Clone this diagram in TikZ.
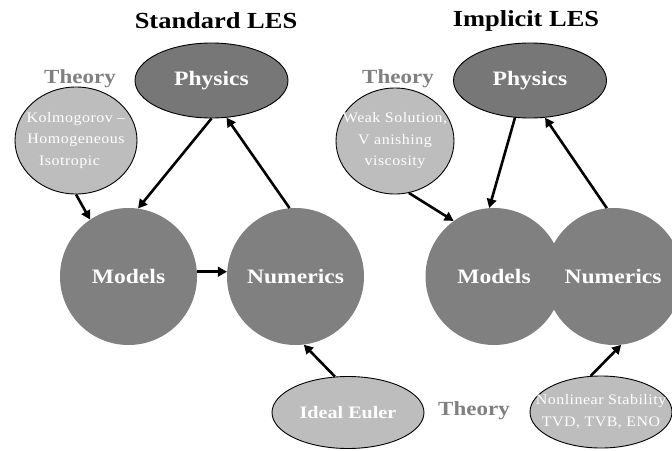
\documentclass[tikz,border=0pt]{standalone}
\usepackage{fontspec}
\setmainfont{Liberation Serif}[FakeStretch=1.15]
\newfontfamily\thinfont{Liberation Serif}[FakeStretch=1.1,LetterSpace=3.5]
\usetikzlibrary{shapes.geometric,arrows.meta}
\definecolor{darkfill}{HTML}{777777}
\definecolor{midfill}{HTML}{808080}
\definecolor{lightfill}{HTML}{BDBDBD}
\definecolor{theorygray}{HTML}{808080}
\tikzset{
  bigcircle/.style={circle,fill=midfill,minimum size=137pt,inner sep=0pt,text=white,font=\bfseries\fontsize{20.5}{24}\selectfont},
  physics/.style={ellipse,draw=black,line width=0.9pt,fill=darkfill,minimum width=153pt,minimum height=75pt,inner sep=0pt,text=white,font=\bfseries\fontsize{20.5}{24}\selectfont},
  theoryblob/.style={ellipse,draw=black,line width=0.9pt,fill=lightfill,inner sep=0pt},
  blobtext/.style={text=white,align=center,font=\thinfont\fontsize{14.5}{21.5}\selectfont},
  theorylbl/.style={text=theorygray,font=\bfseries\fontsize{20}{24}\selectfont},
  titletxt/.style={text=black,font=\bfseries\fontsize{23}{26}\selectfont},
  conn/.style={line width=2.6pt,-{Triangle[length=9pt,width=9.5pt]}}
}
\begin{document}
\begin{tikzpicture}[x=1pt,y=-1pt]
\clip (0,0) rectangle (672,450);
% titles
\node[titletxt] (t1) at (216,21) {Standard LES};
\node[titletxt] (t2) at (526,21) {Implicit LES};
% left diagram
\node[physics] (pL) at (211.5,80.5) {Physics};
\node[theorylbl] (thL) at (80,79) {Theory};
\node[theoryblob,minimum width=122pt,minimum height=107pt,
  label={[blobtext]center:Kolmogorov –\\Homogeneous\\Isotropic\hspace*{0.9em}}] (kL) at (76,140.5) {};
\node[bigcircle] (mL) at (128.5,276.5) {Models};
\node[bigcircle] (nL) at (295.5,276.5) {Numerics};
\node[theoryblob,minimum width=152pt,minimum height=72pt,text=white,
  font=\bfseries\fontsize{17.5}{20}\selectfont] (eL) at (348,412.5) {Ideal Euler};
\node[theorylbl] (thB) at (474,411) {Theory};
% right diagram
\node[physics] (pR) at (530,80.5) {Physics};
\node[theorylbl] (thR) at (398,79) {Theory};
\node[theoryblob,minimum width=118pt,minimum height=106pt,
  label={[blobtext]center:Weak Solution,\\V anishing\\viscosity}] (wR) at (395,141) {};
\node[bigcircle] (nR) at (614,276.5) {};
\node[bigcircle] (mR) at (494,276.5) {};
\node[text=white,font=\bfseries\fontsize{20.5}{24}\selectfont] at (494,276.5) {Models};
\node[text=white,font=\bfseries\fontsize{20.5}{24}\selectfont] at (613,276.5) {Numerics};
\node[theoryblob,minimum width=142pt,minimum height=72pt,
  label={[blobtext,font=\thinfont\fontsize{14.5}{22}\selectfont]center:Nonlinear Stability\\TVD, TVB, ENO}] (sR) at (601,412) {};
% connectors left
\draw[conn] (pL.south) -- (mL.82);
\draw[conn] (nL.95) -- (pL.292);
\draw[conn] (kL.south) -- (mL.124);
\draw[conn] (mL.4) -- (nL.176);
\draw[conn] (eL.110) -- (nL.277);
% connectors right
\draw[conn] (pR.248) -- (mR.94);
\draw[conn] (nR.96) -- (pR.292);
\draw[conn] (wR.285) -- (mR.126);
\draw[conn] (sR.106) -- (nR.276);
\end{tikzpicture}
\end{document}
